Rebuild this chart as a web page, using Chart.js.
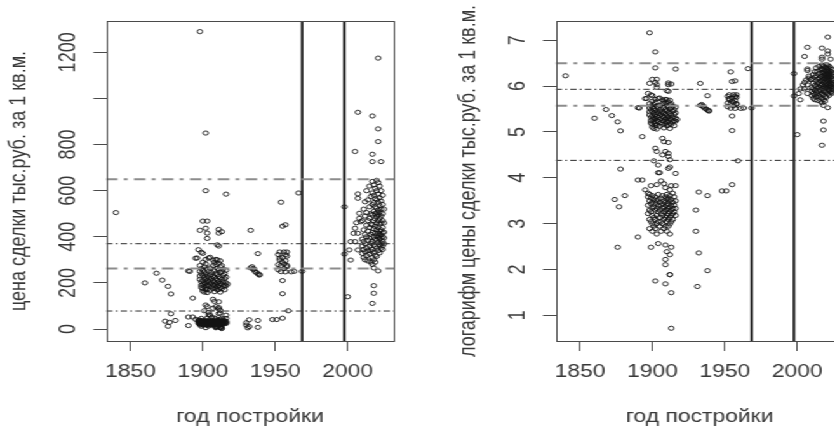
<!DOCTYPE html>
<html lang="ru">
<head>
<meta charset="utf-8">
<title>Цена сделки и год постройки</title>
<script src="https://cdn.jsdelivr.net/npm/chart.js@4.4.1/dist/chart.umd.min.js"></script>
<style>
	html, body { margin: 0; padding: 0; background: #fff; overflow: hidden; }
	/* оба графика рисуются в узких канвасах и растягиваются по горизонтали */
	#stage { position: relative; width: 682px; height: 428px; transform: scaleX(1.27); transform-origin: 0 0; }
	#stage canvas { position: absolute; top: 0; }
	#priceCanvas { left: 0; }
	#logCanvas { left: 353.5px; }
</style>
</head>
<body>
<div id="stage">
	<canvas id="priceCanvas" width="328" height="428"></canvas>
	<canvas id="logCanvas" width="328" height="428"></canvas>
</div>
<script>
// =====================================
// DATA: год постройки -> цены сделок (тыс.руб. за 1 кв.м.)
// =====================================

const earlyYears = [1840, 1860, 1868, 1872, 1874, 1876, 1877, 1878, 1881, 1890, 1891, 1893];
const earlyPrices = [
	[505], [200], [242], [212], [34], [185, 12], [29], [152, 66], [37],
	[252, 52, 15], [250], [134, 52],
];

const prewarYears = [1895, 1896, 1897, 1898, 1899, 1900, 1901, 1902, 1903, 1904, 1905, 1906,
	1907, 1908, 1909, 1910, 1911, 1912, 1913, 1914, 1915, 1916, 1917];
const prewarPrices = [
	[307, 42],
	[308],
	[344, 39, 36, 30, 25],
	[1290, 428, 275, 250, 230, 215, 38, 33, 27, 22, 18],
	[333, 262, 240, 205, 190, 180, 46, 35, 31, 26, 21, 12],
	[468, 328, 290, 255, 232, 210, 195, 175, 165, 37, 32, 28, 24, 20, 17],
	[270, 248, 225, 200, 185, 160, 79, 34, 29, 23, 19],
	[850, 600, 437, 302, 282, 238, 218, 198, 178, 170, 104, 36, 31, 27, 22, 18, 5.75],
	[468, 416, 393, 260, 228, 208, 190, 172, 158, 97, 47, 33, 28, 24, 20, 16],
	[308, 250, 222, 203, 186, 72, 61, 38, 34, 30, 26, 21, 13],
	[311, 265, 235, 212, 195, 168, 61, 32, 27, 23, 19],
	[245, 220, 200, 182, 51, 35, 30, 25, 21, 17],
	[299, 275, 230, 210, 190, 175, 129, 90, 37, 31, 28, 24, 20],
	[290, 252, 225, 205, 188, 162, 120, 48, 33, 29, 26, 22, 18],
	[302, 280, 240, 218, 196, 178, 97, 44, 36, 32, 27, 23, 19, 12.6, 9.2, 8.2, 5.4],
	[365, 300, 262, 235, 212, 200, 185, 170, 38, 34, 30, 27, 24, 21, 17, 10.9],
	[432, 416, 360, 285, 255, 228, 206, 190, 172, 118, 93, 87, 67, 35, 31, 28, 25, 22, 19],
	[296, 270, 245, 222, 198, 180, 160, 81, 69, 42, 37, 33, 29, 26, 23, 20, 16, 10.2, 6.6, 6.6],
	[422, 275, 250, 215, 195, 175, 46, 34, 30, 27, 24, 21, 12, 4.45, 2.05],
	[260, 232, 205, 185, 39, 32, 28, 25, 22],
	[240, 218, 190, 170, 36, 30, 26],
	[585, 255, 225, 200, 188, 60, 46, 33, 28, 24],
	[195],
];

const midYears = [1930, 1931, 1932, 1933, 1934, 1935, 1936, 1937, 1938, 1939, 1948, 1951,
	1952, 1953, 1954, 1955, 1956, 1957, 1958, 1959, 1961, 1963, 1966, 1968.5];
const midPrices = [
	[27, 17], [5.1], [40, 10.6], [428, 265], [270], [262, 258], [250], [245],
	[327, 240, 37, 7.2], [236, 234], [41], [41],
	[323, 279, 257], [334, 308, 300], [550, 275, 249], [446, 310, 290, 210, 153, 47],
	[334, 282, 262], [452, 322, 296, 248], [334, 316, 276, 270], [79],
	[248], [250], [590], [250],
];

const modernYears = [1997.7, 2000, 2001, 2002, 2004, 2005, 2006, 2007, 2008, 2009, 2010, 2011,
	2012, 2013, 2014, 2015, 2016, 2017, 2018, 2019, 2020, 2021, 2022, 2023, 2024, 2025];
const modernPrices = [
	[530, 325], [140], [343], [379, 299], [415], [770, 437, 379], [461],
	[940, 586, 567, 415, 343], [502, 480], [465],
	[470, 390, 360, 328],
	[520, 430, 380, 345, 310],
	[552, 490, 410, 370, 335, 300],
	[600, 505, 450, 400, 352, 318],
	[560, 470, 425, 385, 340, 295],
	[620, 530, 480, 440, 395, 360, 325],
	[575, 500, 455, 410, 372, 338, 290],
	[924, 758, 726, 640, 590, 540, 495, 452, 418, 380, 345, 310, 280, 111],
	[625, 580, 548, 510, 470, 435, 400, 365, 332, 300, 265, 188, 155],
	[610, 565, 530, 500, 478, 445, 415, 390, 358, 320, 290],
	[645, 600, 560, 525, 505, 488, 460, 430, 405, 385, 350, 315],
	[1175, 868, 813, 635, 585, 550, 515, 495, 470, 440, 415, 398, 375, 340, 252],
	[620, 570, 535, 505, 480, 455, 425, 408, 390, 365, 330],
	[726, 600, 555, 520, 490, 460, 430, 410, 395, 372, 350],
	[580, 540, 500, 470, 440, 418, 400, 380, 360, 345],
	[520, 460, 420, 395, 370],
];

// границы периодов застройки (вертикальные линии)
const periodBreaks = [1968.5, 1997.7];

// горизонтальные уровни: чёрные штрихпунктирные и серые
const priceBlackLevels = [78, 370];
const priceGrayLevels = [262, 650];
const logBlackLevels = [4.38, 5.93];
const logGrayLevels = [5.57, 6.5];

// оси
const yearRange = [1833.2, 2031.9];
const yearTicks = [1850, 1900, 1950, 2000];
const priceRange = [-52, 1336];
const priceTicks = [0, 200, 400, 600, 800, 1000, 1200];
const priceTickLabels = ['0', '200', '400', '600', '800', '', '1200'];
const logRange = [0.44, 7.42];
const logTicks = [1, 2, 3, 4, 5, 6, 7];
const logTickLabels = ['1', '2', '3', '4', '5', '6', '7'];

// =====================================
// STYLE
// =====================================

const textColor = '#383838';
const axisColor = '#4a4a4a';
const baseFont = { family: "'Liberation Sans', Arial, sans-serif", size: 18, lineHeight: 1 };

const collectPoints = (transform) => {
	const groups = [
		[earlyYears, earlyPrices],
		[prewarYears, prewarPrices],
		[midYears, midPrices],
		[modernYears, modernPrices],
	];
	const points = [];
	groups.forEach(([years, prices]) => {
		years.forEach((year, i) => {
			prices[i].forEach((p) => points.push({ x: year, y: transform(p) }));
		});
	});
	return points;
};

const levelLine = (value, color, width, dash) => ({
	data: [{ x: yearRange[0], y: value }, { x: yearRange[1], y: value }],
	showLine: true,
	borderColor: color,
	borderWidth: width,
	borderDash: dash,
	pointRadius: 0,
	fill: false,
});

const breakLine = (year, yRange) => ({
	data: [{ x: year, y: yRange[0] }, { x: year, y: yRange[1] }],
	showLine: true,
	borderColor: '#1c1c1c',
	borderWidth: 2,
	pointRadius: 0,
	fill: false,
});

// рамка вокруг области построения
const frameBox = {
	id: 'frameBox',
	afterDraw(chart) {
		const { ctx, chartArea: a } = chart;
		ctx.save();
		ctx.strokeStyle = axisColor;
		ctx.lineWidth = 1;
		ctx.strokeRect(Math.round(a.left) + 0.5, Math.round(a.top) + 0.5,
			Math.round(a.right - a.left) - 1, Math.round(a.bottom - a.top));
		ctx.restore();
	},
};

// подписи оси Y повёрнуты вдоль оси, как в R
const verticalTickLabels = {
	id: 'verticalTickLabels',
	afterDraw(chart, args, opts) {
		const { ctx } = chart;
		const scale = chart.scales.y;
		ctx.save();
		ctx.fillStyle = textColor;
		ctx.font = `${baseFont.size}px ${baseFont.family}`;
		ctx.textAlign = 'center';
		ctx.textBaseline = 'middle';
		opts.ticks.forEach((v, i) => {
			ctx.save();
			ctx.translate(opts.x, scale.getPixelForValue(v));
			ctx.rotate(-Math.PI / 2);
			ctx.fillText(opts.labels[i], 0, 0);
			ctx.restore();
		});
		ctx.restore();
	},
};

// =====================================
// PANELS
// =====================================

const renderPanel = (canvasId, cfg) => {
	const datasets = [
		...cfg.blackLevels.map((v) => levelLine(v, '#2b2b2b', 1, [5, 2.5, 1.5, 2.5])),
		...cfg.grayLevels.map((v) => levelLine(v, '#8c8c8c', 2, [9, 5, 3, 5])),
		...periodBreaks.map((yr) => breakLine(yr, cfg.yRange)),
		{
			data: collectPoints(cfg.transform),
			pointStyle: 'circle',
			pointRadius: 2.1,
			pointBorderWidth: 0.9,
			pointBorderColor: '#141414',
			pointBackgroundColor: 'rgba(0,0,0,0)',
		},
	];

	return new Chart(document.getElementById(canvasId), {
		type: 'scatter',
		data: { datasets },
		options: {
			responsive: false,
			animation: false,
			devicePixelRatio: 1,
			layout: { padding: { top: 21, right: 17.8, left: 0, bottom: 0 } },
			plugins: {
				legend: { display: false },
				tooltip: { enabled: false },
				verticalTickLabels: { ticks: cfg.ticks, labels: cfg.tickLabels, x: 54.1 },
			},
			scales: {
				x: {
					type: 'linear',
					min: yearRange[0],
					max: yearRange[1],
					afterBuildTicks: (s) => { s.ticks = yearTicks.map((v) => ({ value: v })); },
					afterFit: (s) => { s.height = 87; },
					border: { display: false },
					grid: { drawOnChartArea: false, drawTicks: true, tickLength: 10, color: axisColor },
					ticks: {
						font: baseFont, color: textColor, padding: 12,
						maxRotation: 0, autoSkip: false,
						callback: (v) => String(v),
					},
					title: {
						display: true, text: 'год постройки', font: baseFont, color: textColor,
						padding: { top: 0, bottom: 2 },
					},
				},
				y: {
					type: 'linear',
					min: cfg.yRange[0],
					max: cfg.yRange[1],
					afterBuildTicks: (s) => { s.ticks = cfg.ticks.map((v) => ({ value: v })); },
					afterFit: (s) => { s.width = 83.5; },
					border: { display: false },
					grid: { drawOnChartArea: false, drawTicks: true, tickLength: 10, color: axisColor },
					ticks: { display: false },
					title: {
						display: true, text: cfg.title, font: baseFont, color: textColor,
						padding: { top: 5.7, bottom: 0 },
					},
				},
			},
		},
		plugins: [frameBox, verticalTickLabels],
	});
};

renderPanel('priceCanvas', {
	title: 'цена сделки тыс.руб. за 1 кв.м.',
	yRange: priceRange,
	ticks: priceTicks,
	tickLabels: priceTickLabels,
	blackLevels: priceBlackLevels,
	grayLevels: priceGrayLevels,
	transform: (p) => p,
});

renderPanel('logCanvas', {
	title: 'логарифм цены сделки тыс.руб. за 1 кв.м.',
	yRange: logRange,
	ticks: logTicks,
	tickLabels: logTickLabels,
	blackLevels: logBlackLevels,
	grayLevels: logGrayLevels,
	transform: Math.log,
});
</script>
</body>
</html>
